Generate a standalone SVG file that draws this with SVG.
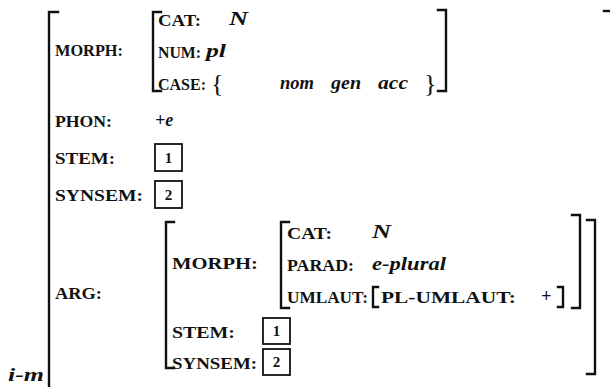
<svg xmlns="http://www.w3.org/2000/svg" width="610" height="387" viewBox="0 0 610 387">
  <style>
    .lbl { font-family: "Liberation Serif", serif; font-weight: bold; font-size: 17.5px; fill: #111; }
    .val { font-family: "Liberation Serif", serif; font-style: italic; font-weight: bold; font-size: 18px; fill: #111; }
    .brace { font-family: "Liberation Serif", serif; font-size: 26px; fill: #111; }
    .num { font-family: "Liberation Serif", serif; font-weight: bold; font-size: 15px; fill: #111; text-anchor: middle; }
    .br { fill: none; stroke: #111; stroke-width: 2.4; stroke-linecap: square; }
    .box { fill: none; stroke: #111; stroke-width: 1.8; }
  </style>
  <rect width="610" height="387" fill="#fff"/>

  <!-- outer AVM bracket -->
  <g id="outer">
    <path class="br" d="M58,12 H49 V387"/>
    <path class="br" d="M604,11 H609"/>
    <text class="val" x="8" y="381" textLength="36" lengthAdjust="spacingAndGlyphs">i-m</text>
  </g>

  <!-- MORPH feature with its nested structure -->
  <g id="morph">
    <text class="lbl" x="55" y="56" textLength="68" lengthAdjust="spacingAndGlyphs">MORPH:</text>
    <path class="br" d="M161,12 H153 V91 H161"/>
    <path class="br" d="M438,10 H446 V91 H438"/>
    <text class="lbl" x="158" y="26" textLength="43" lengthAdjust="spacingAndGlyphs">CAT:</text>
    <text class="val" x="229" y="25" textLength="19" lengthAdjust="spacingAndGlyphs">N</text>
    <text class="lbl" x="158" y="58" textLength="43" lengthAdjust="spacingAndGlyphs">NUM:</text>
    <text class="val" x="206" y="57" textLength="20" lengthAdjust="spacingAndGlyphs">pl</text>
    <text class="lbl" x="158" y="90" textLength="48" lengthAdjust="spacingAndGlyphs">CASE:</text>
    <text class="brace" x="211" y="92">{</text>
    <text class="val" x="280" y="89" textLength="34" lengthAdjust="spacingAndGlyphs">nom</text>
    <text class="val" x="331" y="89" textLength="30" lengthAdjust="spacingAndGlyphs">gen</text>
    <text class="val" x="378" y="89" textLength="30" lengthAdjust="spacingAndGlyphs">acc</text>
    <text class="brace" x="424" y="92">}</text>
  </g>

  <g id="phon">
    <text class="lbl" x="55" y="127" textLength="57" lengthAdjust="spacingAndGlyphs">PHON:</text>
    <text class="val" x="155" y="126">+e</text>
  </g>

  <g id="stem">
    <text class="lbl" x="55" y="164" textLength="60" lengthAdjust="spacingAndGlyphs">STEM:</text>
    <rect class="box" x="155" y="144" width="27" height="27"/>
    <text class="num" x="168.5" y="163">1</text>
  </g>

  <g id="synsem">
    <text class="lbl" x="55" y="201" textLength="88" lengthAdjust="spacingAndGlyphs">SYNSEM:</text>
    <rect class="box" x="155" y="181" width="27" height="27"/>
    <text class="num" x="168.5" y="200">2</text>
  </g>

  <!-- ARG feature -->
  <g id="arg">
    <text class="lbl" x="55" y="299" textLength="47" lengthAdjust="spacingAndGlyphs">ARG:</text>
    <path class="br" d="M174,222 H166 V368 H174"/>
    <path class="br" d="M587,220 H595 V374 H587"/>

    <text class="lbl" x="172" y="269" textLength="86" lengthAdjust="spacingAndGlyphs">MORPH:</text>
    <path class="br" d="M289,222 H281 V308 H289"/>
    <path class="br" d="M572,215 H580 V308 H572"/>
    <text class="lbl" x="287" y="239" textLength="45" lengthAdjust="spacingAndGlyphs">CAT:</text>
    <text class="val" x="372" y="238" textLength="19" lengthAdjust="spacingAndGlyphs">N</text>
    <text class="lbl" x="287" y="271" textLength="67" lengthAdjust="spacingAndGlyphs">PARAD:</text>
    <text class="val" x="372" y="270" textLength="74" lengthAdjust="spacingAndGlyphs">e-plural</text>
    <text class="lbl" x="287" y="303" textLength="81" lengthAdjust="spacingAndGlyphs">UMLAUT:</text>
    <path class="br" d="M378,287 H373 V307 H378"/>
    <text class="lbl" x="381" y="303" textLength="135" lengthAdjust="spacingAndGlyphs">PL-UMLAUT:</text>
    <text class="val" x="541" y="302">+</text>
    <path class="br" d="M558,287 H563 V307 H558"/>

    <text class="lbl" x="172" y="338" textLength="63" lengthAdjust="spacingAndGlyphs">STEM:</text>
    <rect class="box" x="263" y="318" width="27" height="26"/>
    <text class="num" x="276.5" y="336">1</text>
    <text class="lbl" x="172" y="369" textLength="85" lengthAdjust="spacingAndGlyphs">SYNSEM:</text>
    <rect class="box" x="263" y="349" width="27" height="26"/>
    <text class="num" x="276.5" y="367">2</text>
  </g>
</svg>
